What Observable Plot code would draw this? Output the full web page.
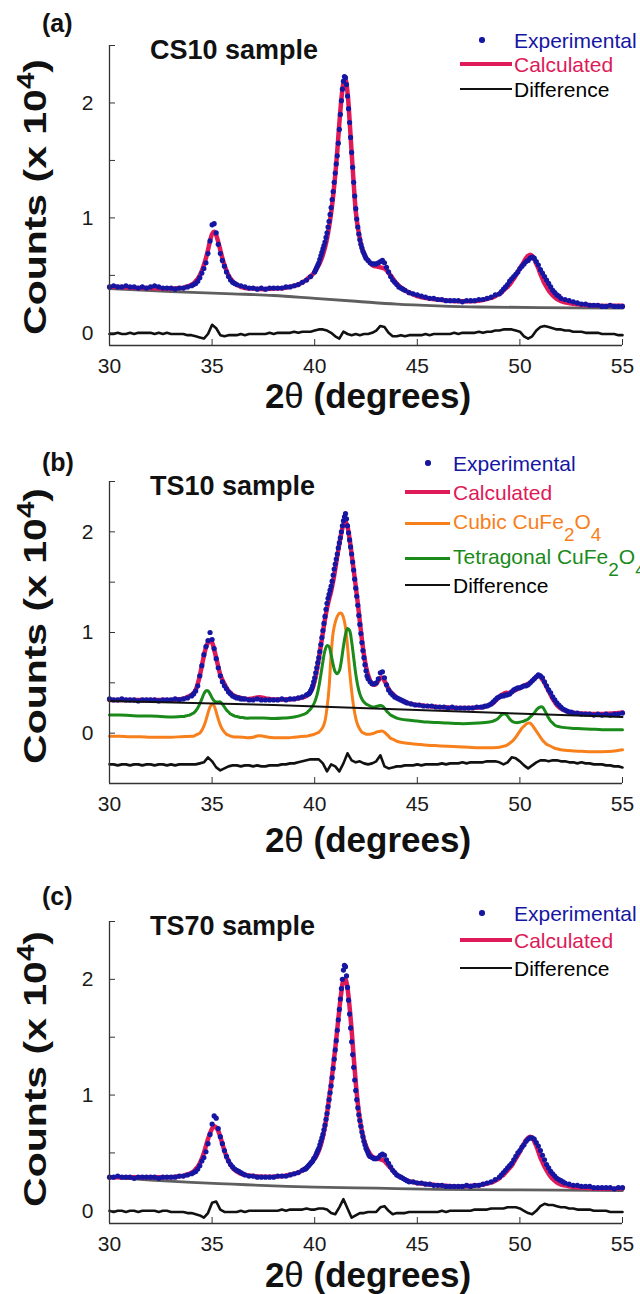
<!DOCTYPE html>
<html><head><meta charset="utf-8">
<script src="https://cdn.jsdelivr.net/npm/d3@7"></script>
<script src="https://cdn.jsdelivr.net/npm/@observablehq/plot@0.6"></script>
<style>
html,body{margin:0;padding:0;background:#fff;overflow:hidden;}
#root{width:640px;height:1294px;position:relative;overflow:hidden;font-family:"Liberation Sans",Arial,sans-serif;}
.panel{position:relative;width:640px;}
.panel svg{display:block;}
.ov{position:absolute;white-space:nowrap;line-height:1;}
.tag{font-weight:bold;font-size:25px;color:#111;}
.title{font-weight:bold;font-size:27px;color:#111;}
.xlab{font-weight:bold;font-size:35px;color:#111;transform:translate(-50%,-50%);}
.xlab span{font-weight:normal;}
.ylab{font-weight:bold;font-size:32px;color:#111;transform:translate(-50%,-50%) rotate(-90deg) scaleX(1.28);}
.ylab sup{font-size:0.72em;vertical-align:0.5em;line-height:0;}
.leg{font-size:21px;transform:translateY(-50%);}
.leg sub{font-size:0.9em;vertical-align:-0.65em;line-height:0;}
.sw{position:absolute;}
</style></head>
<body><div id="root"></div>
<script>
// ---------- axis ticks ----------
const xTicks = [30, 35, 40, 45, 50, 55];
const yMajor = [0, 1, 2];
const yMinor = [0.5, 1.5, 2.5];

// ---------- data: segments [start 2θ, step, counts (x10^4)] ----------
// Panel (a) CS10
const calcA = [
 [30, 0.5, [0.40,0.40,0.395,0.39,0.39,0.385,0.385,0.39]],
 [33.6, 0.1, [0.39,0.40,0.40,0.41,0.42,0.43,0.45,0.47,0.50,0.54,0.59,0.65,0.72,0.80,0.86,0.88,0.85,0.79,0.72,0.65,0.59,0.54,0.50,0.47,0.45,0.43,0.42,0.41,0.40,0.395,0.39]],
 [37, 0.5, [0.385,0.38,0.385,0.39,0.41]],
 [39.2, 0.1, [0.42,0.43,0.44,0.45,0.46,0.48,0.49,0.51,0.53,0.56,
   0.59,0.63,0.68,0.74,0.82,0.92,1.04,1.19,1.37,1.58,
   1.82,2.03,2.17,2.20,2.09,1.85,1.57,1.30,1.06,0.92,
   0.82,0.74,0.69,0.65,0.63,0.61,0.59,0.58,0.58,0.575,
   0.57,0.565,0.56,0.545,0.52,0.50,0.475,0.45,0.43,0.41,
   0.395,0.38,0.37,0.36]],
 [45, 0.5, [0.32,0.30,0.29,0.28,0.275,0.275,0.28,0.30]],
 [48.7, 0.1, [0.31,0.32,0.33,0.34,0.35,0.37,0.385,0.40,0.42,0.445,
   0.47,0.50,0.53,0.56,0.59,0.62,0.65,0.67,0.68,0.67,
   0.64,0.60,0.56,0.51,0.47,0.43,0.40,0.37,0.345,0.325,
   0.31,0.295,0.285,0.275]],
 [52.5, 0.5, [0.255,0.245,0.24,0.235,0.235,0.235]]
];
const expA = [
 [30, 0.2, [0.40,0.41,0.40,0.40,0.41,0.40,0.40,0.39,0.40,0.39,0.40,0.41,0.40,0.39,0.39,0.39,0.38,0.39,0.39,0.40]],
 [34, 0.1, [0.41,0.42,0.43,0.45,0.48,0.52,0.56,0.61,0.69,0.80,0.94,0.95,0.87,0.77,0.69,0.63,0.58,0.53,0.49,0.46,0.44,0.43,0.42]],
 [36.4, 0.2, [0.41,0.40,0.39,0.39,0.38,0.39,0.38,0.39,0.39,0.39,0.39,0.40,0.40,0.41,0.42,0.44,0.46,0.49]],
 [40, 0.05, [0.53,0.55,0.57,0.59,0.61,0.64,0.67,0.70,0.73,0.76,
   0.79,0.83,0.87,0.92,0.97,1.03,1.09,1.16,1.23,1.31,
   1.39,1.47,1.54,1.65,1.77,1.90,2.02,2.12,2.19,2.23,
   2.22,2.16,2.06,1.95,1.83,1.70,1.57,1.44,1.31,1.19,
   1.08,0.99,0.92,0.86,0.81,0.77,0.74,0.71,0.69,0.67,0.65]],
 [42.6, 0.1, [0.63,0.61,0.60,0.60,0.60,0.61,0.62,0.63,0.61,0.57,0.53,0.49,0.46,0.44,0.42,0.40,0.39,0.38,0.37]],
 [44.6, 0.2, [0.35,0.34,0.33,0.32,0.31,0.30,0.30,0.29,0.29,0.28,0.28,0.28,0.28,0.27,0.28,0.28,0.28,0.29,0.29,0.30,0.31,0.33]],
 [49, 0.1, [0.34,0.36,0.38,0.40,0.42,0.45,0.47,0.49,0.51,0.53,
   0.56,0.58,0.60,0.62,0.63,0.65,0.66,0.65,0.62,0.59,
   0.55,0.52,0.49,0.46,0.43,0.40,0.37,0.35,0.33,0.32,0.30]],
 [52.2, 0.2, [0.29,0.28,0.27,0.26,0.25,0.25,0.24,0.24,0.24,0.23,0.23,0.24,0.23,0.23,0.23]]
];
const diffA = [[30, 0.2, [
 -0.01,-0.01,0.00,-0.01,-0.01,0.00,-0.01,0.00,0.00,0.00,
 0.00,-0.01,0.00,-0.01,0.00,-0.01,-0.01,-0.01,-0.01,-0.02,
 -0.02,-0.03,-0.04,-0.05,-0.01,0.07,0.04,-0.02,-0.03,-0.02,
 -0.02,-0.02,-0.01,-0.02,-0.01,-0.01,-0.01,-0.01,-0.01,0.00,
 -0.01,0.00,0.00,0.00,0.00,0.01,0.00,0.01,0.01,0.01,
 0.02,0.03,0.03,0.02,0.00,-0.03,-0.05,0.01,-0.01,-0.02,
 -0.01,-0.02,-0.01,-0.01,0.00,0.02,0.06,0.05,0.00,-0.03,
 -0.03,-0.02,-0.03,-0.02,-0.02,-0.02,-0.02,-0.01,-0.02,-0.01,
 -0.01,-0.01,-0.01,-0.01,0.00,-0.01,0.00,0.00,0.00,0.00,
 0.01,0.00,0.01,0.01,0.02,0.02,0.03,0.03,0.03,0.02,
 0.01,-0.03,-0.05,-0.03,0.02,0.05,0.06,0.05,0.04,0.03,
 0.03,0.02,0.02,0.01,0.01,0.01,0.00,0.00,0.00,0.00,
 -0.01,-0.01,-0.01,-0.01,-0.02,-0.02]]];
const bgA = [[30,0.385],[33,0.36],[36,0.34],[38,0.325],[40,0.30],[42,0.275],[44,0.25],[46,0.235],[48,0.225],[51,0.22],[55,0.215]];

// Panel (b) TS10
const calcB = [
 [30, 0.5, [0.33,0.33,0.33,0.33,0.33,0.33,0.33,0.34]],
 [33.6, 0.1, [0.34,0.35,0.36,0.37,0.38,0.40,0.43,0.49,0.57,0.67,
   0.77,0.85,0.90,0.92,0.90,0.83,0.75,0.66,0.58,0.53,
   0.49,0.45,0.42,0.40,0.38,0.37,0.36,0.355,0.35,0.345,0.34]],
 [36.8, 0.2, [0.34,0.345,0.355,0.355,0.345,0.34,0.335]],
 [38.5, 0.5, [0.335,0.34,0.36]],
 [39.6, 0.1, [0.37,0.39,0.41,0.45,0.52,0.62,0.74,0.87,1.00,1.13,
   1.24,1.33,1.41,1.51,1.63,1.76,1.88,1.99,2.07,2.10,
   2.05,1.93,1.78,1.62,1.46,1.29,1.11,0.93,0.78,0.66,
   0.58,0.52,0.49,0.48,0.49,0.52,0.55,0.55,0.52,0.48,
   0.44,0.41,0.39,0.37,0.35,0.34,0.33,0.32,0.31,0.30]],
 [45, 0.5, [0.28,0.27,0.26,0.255,0.25,0.25,0.255]],
 [48.2, 0.1, [0.26,0.265,0.27,0.28,0.29,0.30,0.32,0.34,0.36,0.38,
   0.39,0.40,0.40,0.40,0.41,0.42,0.43,0.44,0.45,0.46,
   0.47,0.48,0.49,0.50,0.52,0.54,0.56,0.57,0.56,0.53,
   0.50,0.46,0.42,0.38,0.34,0.31,0.28,0.26,0.245,0.235,
   0.225,0.215,0.21,0.205]],
 [53, 0.5, [0.195,0.19,0.19,0.195,0.205]]
];
const expB = [
 [30, 0.2, [0.34,0.33,0.33,0.34,0.33,0.33,0.33,0.32,0.33,0.33,0.33,0.33,0.32,0.33,0.33,0.33,0.34,0.33,0.34,0.35]],
 [34, 0.1, [0.37,0.39,0.42,0.47,0.57,0.67,0.78,0.86,0.92,1.00,
   0.93,0.84,0.74,0.65,0.57,0.51,0.47,0.44,0.41,0.39,
   0.37,0.36,0.35,0.35,0.34,0.34,0.34]],
 [36.8, 0.2, [0.33,0.33,0.34,0.33,0.33,0.33,0.33,0.33,0.34,0.33,0.34,0.34,0.35,0.36,0.38]],
 [39.7, 0.05, [0.39,0.40,0.42,0.44,0.47,0.51,0.55,0.60,0.65,0.70,
   0.75,0.81,0.88,0.95,1.02,1.09,1.16,1.23,1.29,1.34,
   1.38,1.42,1.46,1.51,1.57,1.63,1.68,1.73,1.78,1.84,
   1.89,1.94,2.00,2.06,2.11,2.15,2.18,2.13,2.06,1.99,
   1.92,1.85,1.78,1.70,1.62,1.53,1.44,1.36,1.27,1.17,
   1.08,0.99,0.90,0.82,0.75,0.68,0.62,0.57,0.54]],
 [42.7, 0.1, [0.51,0.49,0.49,0.50,0.54,0.60,0.61,0.55,0.48,0.43,0.40,0.38,0.36,0.35,0.34,0.33,0.32,0.31,0.30]],
 [44.7, 0.2, [0.29,0.28,0.28,0.27,0.27,0.27,0.26,0.26,0.26,0.25,0.26,0.25,0.25,0.25,0.25,0.25,0.26,0.26]],
 [48.2, 0.1, [0.26,0.27,0.27,0.28,0.29,0.31,0.33,0.35,0.36,0.37,
   0.37,0.38,0.38,0.39,0.41,0.43,0.44,0.45,0.45,0.46,
   0.47,0.47,0.48,0.50,0.52,0.54,0.56,0.58,0.57,0.55,
   0.51,0.47,0.43,0.40,0.36,0.33,0.30,0.28,0.26,0.24,
   0.23,0.22,0.21,0.21,0.20]],
 [52.8, 0.2, [0.20,0.19,0.19,0.19,0.18,0.19,0.18,0.19,0.18,0.19,0.19,0.20]]
];
const cubicB = [
 [30, 0.5, [-0.03,-0.03,-0.035,-0.035,-0.04,-0.04,-0.04,-0.035,-0.03]],
 [34.1, 0.1, [-0.03,-0.02,-0.01,0.00,0.03,0.07,0.13,0.20,0.26,0.29,
   0.27,0.21,0.14,0.08,0.04,0.01,-0.01,-0.02,-0.03,-0.035]],
 [36.5, 0.25, [-0.04,-0.045,-0.04,-0.025,-0.03,-0.04,-0.045,-0.045,-0.045,-0.045,-0.04,-0.035,-0.03]],
 [39.6, 0.1, [-0.03,-0.025,-0.02,-0.015,-0.01,0.00,0.01,0.03,0.06,0.12,
   0.25,0.45,0.78,1.00,1.10,1.16,1.19,1.19,1.15,1.05,
   0.86,0.62,0.42,0.26,0.15,0.08,0.04,0.01,0.00,-0.01,
   -0.01,-0.01,-0.005,0.00,0.01,0.015,0.02,0.02,0.01,-0.01,
   -0.03,-0.05,-0.06,-0.07,-0.08]],
 [44.5, 0.5, [-0.10,-0.11,-0.12,-0.125,-0.13,-0.135,-0.14,-0.145,-0.145,-0.14]],
 [49.1, 0.1, [-0.135,-0.13,-0.125,-0.115,-0.10,-0.085,-0.065,-0.04,-0.01,0.02,
   0.05,0.07,0.09,0.10,0.10,0.08,0.05,0.02,-0.01,-0.04,
   -0.07,-0.09,-0.11,-0.12,-0.13,-0.14,-0.15,-0.155,-0.16,-0.165]],
 [52.5, 0.5, [-0.175,-0.18,-0.185,-0.185,-0.18,-0.165]]
];
const tetraB = [
 [30, 0.5, [0.18,0.18,0.175,0.17,0.17,0.165,0.16,0.165]],
 [33.6, 0.1, [0.165,0.17,0.175,0.18,0.19,0.20,0.22,0.25,0.29,0.34,
   0.39,0.42,0.42,0.39,0.35,0.32,0.31,0.31,0.31,0.29,
   0.26,0.23,0.21,0.19,0.18,0.17,0.165,0.16,0.155,0.155,0.15]],
 [37, 0.5, [0.15,0.15,0.145,0.15,0.16,0.19]],
 [39.6, 0.1, [0.20,0.22,0.24,0.27,0.31,0.37,0.46,0.58,0.71,0.82,
   0.87,0.86,0.78,0.68,0.61,0.59,0.62,0.72,0.86,0.98,
   1.04,1.02,0.91,0.75,0.59,0.47,0.39,0.34,0.31,0.29,
   0.28,0.27,0.26,0.26,0.265,0.27,0.275,0.27,0.25,0.22,
   0.20,0.18,0.17,0.16,0.15]],
 [44.5, 0.5, [0.13,0.12,0.11,0.105,0.10,0.095,0.095,0.10,0.11]],
 [48.6, 0.1, [0.115,0.12,0.13,0.14,0.16,0.18,0.19,0.19,0.17,0.14,
   0.12,0.11,0.105,0.105,0.11,0.115,0.12,0.13,0.14,0.16,
   0.18,0.20,0.23,0.25,0.26,0.26,0.23,0.19,0.15,0.12,
   0.10,0.08,0.07,0.065,0.06]],
 [52.5, 0.5, [0.05,0.045,0.04,0.035,0.035,0.035]]
];
const diffB = [[30, 0.2, [
 -0.31,-0.31,-0.32,-0.31,-0.31,-0.32,-0.31,-0.31,-0.32,-0.31,
 -0.31,-0.32,-0.31,-0.31,-0.32,-0.31,-0.32,-0.31,-0.31,-0.31,
 -0.31,-0.31,-0.30,-0.29,-0.24,-0.28,-0.34,-0.37,-0.35,-0.33,
 -0.32,-0.32,-0.33,-0.32,-0.32,-0.33,-0.32,-0.33,-0.33,-0.32,
 -0.32,-0.32,-0.31,-0.31,-0.30,-0.30,-0.29,-0.28,-0.27,-0.26,
 -0.26,-0.26,-0.30,-0.38,-0.31,-0.33,-0.38,-0.30,-0.20,-0.27,
 -0.29,-0.28,-0.30,-0.31,-0.30,-0.28,-0.22,-0.33,-0.35,-0.34,
 -0.33,-0.33,-0.32,-0.32,-0.32,-0.31,-0.32,-0.31,-0.31,-0.31,
 -0.31,-0.30,-0.31,-0.30,-0.30,-0.30,-0.29,-0.30,-0.29,-0.29,
 -0.29,-0.29,-0.28,-0.28,-0.28,-0.29,-0.31,-0.29,-0.24,-0.25,
 -0.28,-0.32,-0.35,-0.32,-0.29,-0.27,-0.27,-0.28,-0.27,-0.27,
 -0.28,-0.28,-0.29,-0.29,-0.30,-0.29,-0.30,-0.30,-0.31,-0.31,
 -0.31,-0.32,-0.32,-0.33,-0.33,-0.34]]];
const bgB = [[30,0.32],[38,0.28],[45,0.23],[55,0.16]];

// Panel (c) TS70
const calcC = [
 [30, 0.5, [0.29,0.29,0.29,0.29,0.29,0.29,0.29,0.30]],
 [33.6, 0.1, [0.30,0.31,0.31,0.32,0.33,0.34,0.36,0.38,0.41,0.45,
   0.50,0.56,0.62,0.67,0.71,0.73,0.72,0.69,0.64,0.58,
   0.52,0.47,0.43,0.40,0.37,0.355,0.34,0.33,0.32,0.315,0.31]],
 [37, 0.5, [0.30,0.295,0.295,0.30,0.32]],
 [39.1, 0.1, [0.325,0.33,0.34,0.35,0.36,0.37,0.39,0.41,0.43,0.45,
   0.48,0.52,0.57,0.64,0.73,0.84,0.97,1.10,1.25,1.40,
   1.57,1.74,1.89,1.99,2.00,1.92,1.76,1.56,1.33,1.11,
   0.93,0.79,0.69,0.61,0.56,0.52,0.49,0.47,0.46,0.45,
   0.45,0.445,0.44,0.43,0.41,0.39,0.37,0.35,0.33,0.31,
   0.30,0.29,0.28,0.27,0.26]],
 [45, 0.5, [0.24,0.23,0.22,0.215,0.21,0.215,0.22,0.24]],
 [48.6, 0.1, [0.245,0.25,0.26,0.27,0.28,0.30,0.31,0.33,0.35,0.37,
   0.39,0.42,0.45,0.48,0.51,0.55,0.58,0.61,0.63,0.64,
   0.63,0.60,0.56,0.51,0.46,0.42,0.38,0.35,0.32,0.295,
   0.275,0.26,0.245,0.235,0.225]],
 [52.5, 0.5, [0.21,0.20,0.195,0.19,0.19,0.195]]
];
const expC = [
 [30, 0.2, [0.29,0.29,0.30,0.29,0.29,0.29,0.28,0.29,0.29,0.29,0.29,0.29,0.28,0.29,0.29,0.29,0.29,0.30,0.30,0.31]],
 [34, 0.1, [0.32,0.33,0.34,0.36,0.39,0.43,0.46,0.51,0.58,0.66,
   0.75,0.82,0.80,0.71,0.64,0.58,0.52,0.47,0.43,0.40,
   0.38,0.36,0.35,0.34,0.33,0.32,0.31]],
 [36.8, 0.2, [0.30,0.30,0.29,0.29,0.29,0.29,0.29,0.30,0.30,0.30,0.31,0.32,0.33,0.35]],
 [39.5, 0.05, [0.36,0.36,0.37,0.38,0.39,0.40,0.41,0.42,0.43,0.45,
   0.46,0.48,0.50,0.52,0.54,0.57,0.60,0.63,0.66,0.70,
   0.74,0.79,0.84,0.90,0.96,1.02,1.08,1.15,1.23,1.31,
   1.39,1.47,1.56,1.65,1.74,1.83,1.92,2.00,2.08,2.12,
   2.11,2.03,1.93,1.82,1.70,1.58,1.46,1.35,1.24,1.13,
   1.04,0.96,0.89,0.83,0.78,0.73,0.68,0.64,0.60,0.57,
   0.54,0.52,0.50,0.48,0.47]],
 [42.8, 0.1, [0.46,0.45,0.45,0.46,0.48,0.49,0.48,0.44,0.41,0.38,0.35,0.33,0.31,0.30,0.29,0.28,0.27,0.26,0.25]],
 [44.8, 0.2, [0.25,0.24,0.24,0.23,0.23,0.22,0.22,0.22,0.21,0.21,0.21,0.21,0.21,0.22,0.21,0.22,0.22,0.23,0.24,0.25,0.27]],
 [49, 0.1, [0.29,0.31,0.33,0.35,0.37,0.39,0.41,0.44,0.47,0.50,
   0.52,0.55,0.57,0.60,0.62,0.63,0.63,0.62,0.59,0.56,
   0.52,0.48,0.44,0.40,0.37,0.34,0.32,0.30,0.28,0.27,
   0.26,0.25,0.24]],
 [52.4, 0.2, [0.23,0.22,0.22,0.21,0.21,0.21,0.20,0.20,0.20,0.20,0.20,0.19,0.20,0.20]]
];
const diffC = [[30, 0.2, [
 0.00,-0.01,0.00,0.00,-0.01,0.00,0.00,-0.01,0.00,0.00,
 0.00,0.00,-0.01,0.00,0.00,-0.01,-0.01,-0.01,-0.01,-0.02,
 -0.02,-0.03,-0.04,-0.06,-0.02,0.07,0.08,0.01,-0.01,-0.01,
 -0.01,-0.01,0.00,-0.01,0.00,0.00,0.00,0.00,0.00,0.00,
 0.00,0.00,0.01,0.00,0.01,0.01,0.01,0.01,0.02,0.01,
 0.01,0.02,0.02,0.01,-0.02,-0.03,0.03,0.10,0.02,-0.06,
 -0.04,-0.02,-0.02,-0.01,-0.01,-0.01,0.03,0.04,0.00,-0.03,
 -0.02,-0.02,-0.02,-0.01,-0.01,-0.01,-0.01,-0.01,-0.01,-0.01,
 -0.01,0.00,-0.01,0.00,0.00,0.00,0.00,0.00,0.00,0.01,
 0.01,0.01,0.01,0.02,0.02,0.02,0.02,0.03,0.03,0.03,
 0.02,0.00,-0.02,-0.03,0.00,0.04,0.06,0.05,0.05,0.04,
 0.03,0.03,0.02,0.02,0.01,0.01,0.01,0.01,0.00,0.00,
 0.00,0.00,-0.01,-0.01,-0.01,-0.01]]];
const bgC = [[30,0.29],[32,0.265],[34,0.245],[36,0.23],[38,0.215],[40,0.205],[43,0.195],[46,0.185],[50,0.18],[55,0.175]];

// ---------- text ----------
const tags = ["(a)", "(b)", "(c)"];
const titles = ["CS10 sample", "TS10 sample", "TS70 sample"];
const legendABC = ["Experimental", "Calculated", "Difference"];
const legendB = ["Experimental", "Calculated", "Cubic CuFe<sub>2</sub>O<sub>4</sub>", "Tetragonal CuFe<sub>2</sub>O<sub>4</sub>", "Difference"];

// ---------- colours ----------
const BLUE = "#1616a3", PINK = "#de1a58", BLACK = "#111", GRAY = "#5f5f5f", ORANGE = "#f7801c", GREEN = "#1a8a1a";

// ---------- helpers ----------
const seg = s => s.flatMap(([x0, dx, ys]) => ys.map((y, i) => ({x: Math.round((x0 + i * dx) * 1000) / 1000, y}))).sort((a, b) => a.x - b.x);
const pts = p => p.map(([x, y]) => ({x, y}));

function chart(cfg) {
  const marks = [];
  for (const m of cfg.under) marks.push(m);
  marks.push(
    Plot.ruleX([30], {stroke: "#333", strokeWidth: 1.3}),
    Plot.ruleY([cfg.yDomain[0]], {stroke: "#333", strokeWidth: 1.3}),
    Plot.axisX({ticks: xTicks, tickSize: -6, tickPadding: 19, label: null, stroke: "#333", tickFormat: d => String(d)}),
    Plot.axisY({ticks: yMajor, tickSize: -6, tickPadding: 22, label: null, stroke: "#333", tickFormat: d => String(d)}),
    Plot.axisY({ticks: yMinor, tickSize: -6, tickFormat: () => "", label: null, stroke: "#333"})
  );
  return Plot.plot({
    width: 640, height: cfg.height,
    marginLeft: 109, marginRight: 18, marginTop: 45, marginBottom: cfg.mb,
    x: {domain: [30, 55], label: null},
    y: {domain: cfg.yDomain, label: null},
    style: {fontFamily: '"Liberation Sans", Arial, sans-serif', fontSize: "21px", color: "#1a1a1a", background: "transparent", overflow: "visible"},
    marks
  });
}

function add(parent, cls, html, css) {
  const d = document.createElement("div");
  d.className = cls; d.innerHTML = html;
  Object.assign(d.style, css);
  parent.appendChild(d);
  return d;
}

function panel(cfg) {
  const div = document.createElement("div");
  div.className = "panel";
  div.style.height = cfg.height + "px";
  div.appendChild(chart(cfg));
  add(div, "ov tag", cfg.tag, {left: "42px", top: cfg.tagTop + "px"});
  add(div, "ov title", cfg.title, {left: "150px", top: "37px"});
  add(div, "ov ylab", "Counts (x 10<sup>4</sup>)", {left: "35px", top: cfg.ylabY + "px"});
  add(div, "ov xlab", "2<span>θ</span> (degrees)", {left: "368px", top: cfg.xlabY + "px"});
  const L = cfg.legend;
  L.items.forEach(it => {
    if (it.dot) add(div, "sw", "", {left: (L.dotX - 2.7) + "px", top: (it.y - 2.7) + "px", width: "5.4px", height: "5.4px", borderRadius: "50%", background: it.color});
    else add(div, "sw", "", {left: L.x1 + "px", top: (it.y - it.w / 2) + "px", width: (L.x2 - L.x1) + "px", height: it.w + "px", background: it.color});
    add(div, "ov leg", it.label, {left: L.textX + "px", top: it.y + "px", color: it.tc || it.color});
  });
  document.getElementById("root").appendChild(div);
}

const lineOpts = (stroke, w, curve = "catmull-rom") => ({x: "x", y: "y", stroke, strokeWidth: w, curve, strokeLinejoin: "round"});

// Panel (a)
panel({
  height: 436, mb: 91, yDomain: [-0.11, 2.5], tag: tags[0], tagTop: 11, title: titles[0], ylabY: 197, xlabY: 395,
  under: [
    Plot.line(pts(bgA), lineOpts(GRAY, 2.8)),
    Plot.line(seg(calcA), lineOpts(PINK, 4.5)),
    Plot.dot(seg(expA), {x: "x", y: "y", r: 2.6, fill: BLUE}),
    Plot.line(seg(diffA), lineOpts(BLACK, 2.6, "linear"))
  ],
  legend: {dotX: 482, x1: 460, x2: 512, textX: 514, items: [
    {label: legendABC[0], y: 40, color: BLUE, dot: true},
    {label: legendABC[1], y: 64, color: PINK, w: 4},
    {label: legendABC[2], y: 89, color: BLACK, w: 2.5, tc: "#000"}
  ]}
});

// Panel (b)
panel({
  height: 440, mb: 93, yDomain: [-0.5, 2.5], tag: tags[1], tagTop: 14, title: titles[1], ylabY: 190, xlabY: 403,
  under: [
    Plot.line(seg(cubicB), lineOpts(ORANGE, 3)),
    Plot.line(seg(tetraB), lineOpts(GREEN, 3)),
    Plot.line(seg(calcB), lineOpts(PINK, 4.5)),
    Plot.dot(seg(expB), {x: "x", y: "y", r: 2.6, fill: BLUE}),
    Plot.line(pts(bgB), lineOpts(BLACK, 2, "linear")),
    Plot.line(seg(diffB), lineOpts(BLACK, 2.6, "linear"))
  ],
  legend: {dotX: 428, x1: 405, x2: 450, textX: 453, items: [
    {label: legendB[0], y: 27, color: BLUE, dot: true},
    {label: legendB[1], y: 56, color: PINK, w: 4},
    {label: legendB[2], y: 87, color: ORANGE, w: 3},
    {label: legendB[3], y: 122, color: GREEN, w: 3},
    {label: legendB[4], y: 149, color: BLACK, w: 2.5, tc: "#000"}
  ]}
});

// Panel (c)
panel({
  height: 418, mb: 71, yDomain: [-0.11, 2.5], tag: tags[2], tagTop: 8, title: titles[2], ylabY: 193, xlabY: 398,
  under: [
    Plot.line(pts(bgC), lineOpts(GRAY, 2.8)),
    Plot.line(seg(calcC), lineOpts(PINK, 4.5)),
    Plot.dot(seg(expC), {x: "x", y: "y", r: 2.6, fill: BLUE}),
    Plot.line(seg(diffC), lineOpts(BLACK, 2.6, "linear"))
  ],
  legend: {dotX: 482, x1: 460, x2: 512, textX: 514, items: [
    {label: legendABC[0], y: 37, color: BLUE, dot: true},
    {label: legendABC[1], y: 64, color: PINK, w: 4},
    {label: legendABC[2], y: 92, color: BLACK, w: 2.5, tc: "#000"}
  ]}
});
</script></body></html>
